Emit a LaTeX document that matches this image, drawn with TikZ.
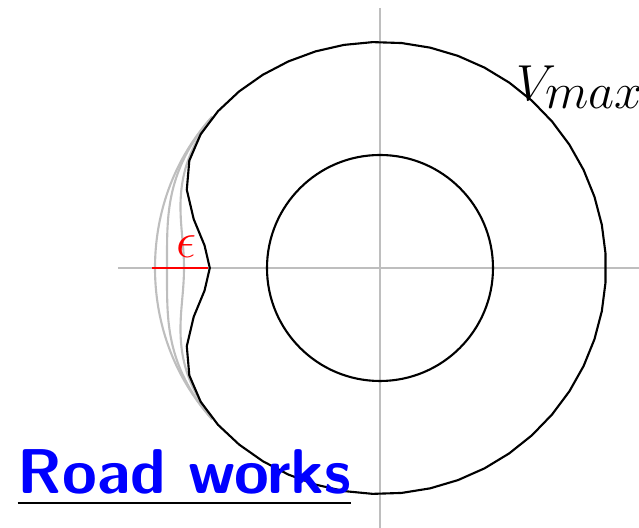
\documentclass[tikz,border=0pt]{standalone}
\usepackage{amsmath}
\usepackage{tikz}
\usetikzlibrary{positioning,calc}
\definecolor{axisgray}{RGB}{190,190,190}
\tikzset{
  axis/.style={draw=axisgray, line width=0.6pt},
  road/.style={draw=black, line width=0.6pt},
  ghost/.style={draw=axisgray, line width=0.6pt},
  gap/.style={draw=red, line width=0.75pt},
  title/.style={font=\fontsize{18}{22}\selectfont\sffamily\bfseries, inner sep=0pt, anchor=base west}
}

\begin{document}
\begin{tikzpicture}[x=0.01cm,y=0.01cm]
        \useasboundingbox (-380,-260) rectangle (259,268);
        % axes
        \coordinate (west) at (-262,0);
        \coordinate (east) at (259,0);
        \coordinate (north) at (0,260);
        \coordinate (south) at (0,-260);
        \draw[axis] (west) -- (east);
        \draw[axis] (north) -- (south);
        % earlier shapes of the dent
        \foreach \d/\s in {1/22,13/20,30/23}
          \draw[ghost] plot[domain=138:222, samples=43, smooth] (\x:{226-\d*exp(-((\x-180)/\s)^2)});
        % inner circle and outer boundary
        \draw[road] (0,0) circle[radius=113];
        \draw[road] plot[domain=3.675:363.675, samples=50] (\x:{226-55.8*exp(-min(60,((\x-180)/20.5)^2))}) -- cycle;
        % dent depth
        \coordinate (rim) at (180:228);
        \coordinate (tip) at (180:172);
        \draw[gap] (rim) -- (tip);
        \node[text=red, font=\Large, inner sep=0pt] (eps) at (-193,21) {$\epsilon$};
        % labels
        \node[font=\fontsize{13.6}{16}\selectfont, inner sep=0pt, anchor=base west] (vmax) at (136,167) {$V_{\textstyle max}$};
        \node[title] (works) at (-363,-226) {\underline{\textcolor{blue}{Road works}}};
      \end{tikzpicture}
\end{document}
